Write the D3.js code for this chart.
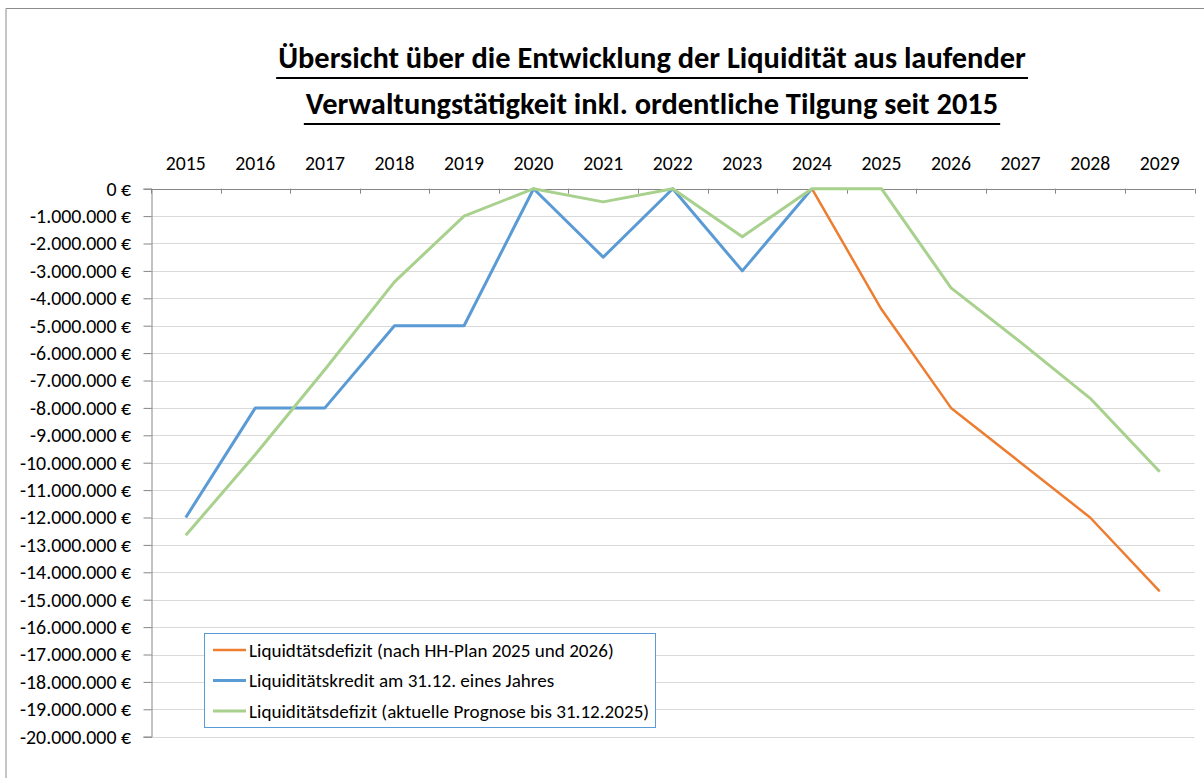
<!DOCTYPE html>
<html>
<head>
<meta charset="utf-8">
<script src="https://cdn.jsdelivr.net/npm/d3@7"></script>
<style>
  body { margin: 0; background: #fff; }
  svg text { font-family: Carlito, Calibri, Lato, sans-serif; fill: #000; }
</style>
</head>
<body>
<div id="chart"></div>
<script>
var years = [2015, 2016, 2017, 2018, 2019, 2020, 2021, 2022, 2023, 2024, 2025, 2026, 2027, 2028, 2029];
var seriesNames = [
  "Liquidtätsdefizit (nach HH-Plan 2025 und 2026)",
  "Liquiditätskredit am 31.12. eines Jahres",
  "Liquiditätsdefizit (aktuelle Prognose bis 31.12.2025)"
];
var defizitPlan = [null, null, null, null, null, null, null, null, null, 0, -4400000, -8000000, -10000000, -12000000, -14700000];
var kredit = [-12000000, -8000000, -8000000, -5000000, -5000000, 0, -2500000, 0, -3000000, 0, null, null, null, null, null];
var defizitPrognose = [-12650000, -9700000, -6600000, -3400000, -1000000, 0, -480000, 0, -1750000, 0, 0, -3620000, -5600000, -7650000, -10330000];
var yTicks = d3.range(0, -20000001, -1000000);
var titleLines = [
  "Übersicht über die Entwicklung der Liquidität aus laufender",
  "Verwaltungstätigkeit inkl. ordentliche Tilgung seit 2015"
];

var colors = ["#ED7D31", "#5B9BD5", "#A9D18E"];
var widths = [2.5, 3, 3];
var allSeries = [defizitPlan, kredit, defizitPrognose];

var width = 1204, height = 778;
var svg = d3.select("#chart").append("svg")
  .attr("width", width).attr("height", height);

// font size so that a sample string gets the width seen in the original
function fitSize(sample, target, weight) {
  var t = svg.append("text").style("font-size", "20px")
    .style("font-weight", weight || "normal").text(sample);
  var w = t.node().getComputedTextLength();
  t.remove();
  return 20 * target / w;
}
var yFont = fitSize("-1.000.000 €", 101);
var xFont = fitSize("2015", 40);
var legFont = fitSize(seriesNames[0], 365);
var titleFont = fitSize(titleLines[0], 748, "bold");

// frame
svg.append("path")
  .attr("d", "M6,778V8.5H1204")
  .attr("fill", "none").attr("stroke", "#8c8c8c").attr("stroke-width", 1);

var x = d3.scaleBand().domain(years).range([151, 1194.5]);
var y = d3.scaleLinear().domain([-20000000, 0]).range([736.7, 188.7]);

var de = d3.formatLocale({decimal: ",", thousands: ".", grouping: [3], currency: ["", " €"], minus: "-"});
var fmt = de.format("$,.0f");

// gridlines
svg.append("g").selectAll("line").data(yTicks.slice(1)).join("line")
  .attr("x1", x.range()[0]).attr("x2", x.range()[1])
  .attr("y1", function(d){ return Math.round(y(d)) + 0.5; })
  .attr("y2", function(d){ return Math.round(y(d)) + 0.5; })
  .attr("stroke", "#d9d9d9").attr("stroke-width", 1);

// y axis
var yAxis = d3.axisLeft(y).tickValues(yTicks).tickFormat(fmt).tickSize(8).tickPadding(12.5);
var gy = svg.append("g").attr("transform", "translate(151.5,0)").call(yAxis);
gy.select(".domain").attr("stroke", "#868686");
gy.selectAll(".tick line").attr("stroke", "#868686");
gy.selectAll(".tick text").style("font-size", yFont + "px").attr("fill", "#000");

// x axis at top, ticks between categories
var gx = svg.append("g");
gx.append("line")
  .attr("x1", x.range()[0]).attr("x2", x.range()[1])
  .attr("y1", Math.round(y(0)) + 0.5).attr("y2", Math.round(y(0)) + 0.5)
  .attr("stroke", "#868686");
gx.selectAll(".xt").data(d3.range(years.length + 1)).join("line")
  .attr("class", "xt")
  .attr("x1", function(i){ return Math.round(x.range()[0] + i * x.bandwidth()) + 0.5; })
  .attr("x2", function(i){ return Math.round(x.range()[0] + i * x.bandwidth()) + 0.5; })
  .attr("y1", y(0)).attr("y2", y(0) + 5)
  .attr("stroke", "#868686");
gx.selectAll("text").data(years).join("text")
  .attr("x", function(d){ return x(d) + x.bandwidth() / 2; })
  .attr("y", y(0) - 18.5)
  .attr("text-anchor", "middle")
  .style("font-size", xFont + "px")
  .text(function(d){ return d; });

// lines
var line = d3.line()
  .defined(function(d){ return d != null; })
  .x(function(d, i){ return x(years[i]) + x.bandwidth() / 2; })
  .y(function(d){ return y(d); });

svg.append("g").selectAll("path").data(allSeries).join("path")
  .attr("d", line)
  .attr("fill", "none")
  .attr("stroke", function(d, i){ return colors[i]; })
  .attr("stroke-width", function(d, i){ return widths[i]; })
  .attr("stroke-linejoin", "round");

// title
var tg = svg.append("g");
titleLines.forEach(function(t, i){
  var tx = tg.append("text")
    .attr("x", 652).attr("y", 68 + i * 46)
    .attr("text-anchor", "middle")
    .style("font-size", titleFont + "px").style("font-weight", "bold")
    .text(t);
  var bb = tx.node().getBBox();
  tg.append("line")
    .attr("x1", bb.x - 2).attr("x2", bb.x + bb.width + 2)
    .attr("y1", 78 + i * 46).attr("y2", 78 + i * 46)
    .attr("stroke", "#000").attr("stroke-width", 2);
});

// legend
var lg = svg.append("g").attr("transform", "translate(204,633)");
lg.append("rect").attr("x", 0.5).attr("y", 0.5).attr("width", 451).attr("height", 94)
  .attr("fill", "#fff").attr("stroke", "#5B9BD5").attr("stroke-width", 1);
var items = lg.selectAll(".li").data(seriesNames).join("g")
  .attr("class", "li")
  .attr("transform", function(d, i){ return "translate(0," + (17 + i * 30.5) + ")"; });
items.append("line")
  .attr("x1", 9).attr("x2", 42).attr("y1", 0).attr("y2", 0)
  .attr("stroke", function(d, i){ return colors[i]; })
  .attr("stroke-width", function(d, i){ return widths[i]; });
items.append("text")
  .attr("x", 45).attr("y", 6.5)
  .style("font-size", legFont + "px")
  .text(function(d){ return d; });
</script>
</body>
</html>
